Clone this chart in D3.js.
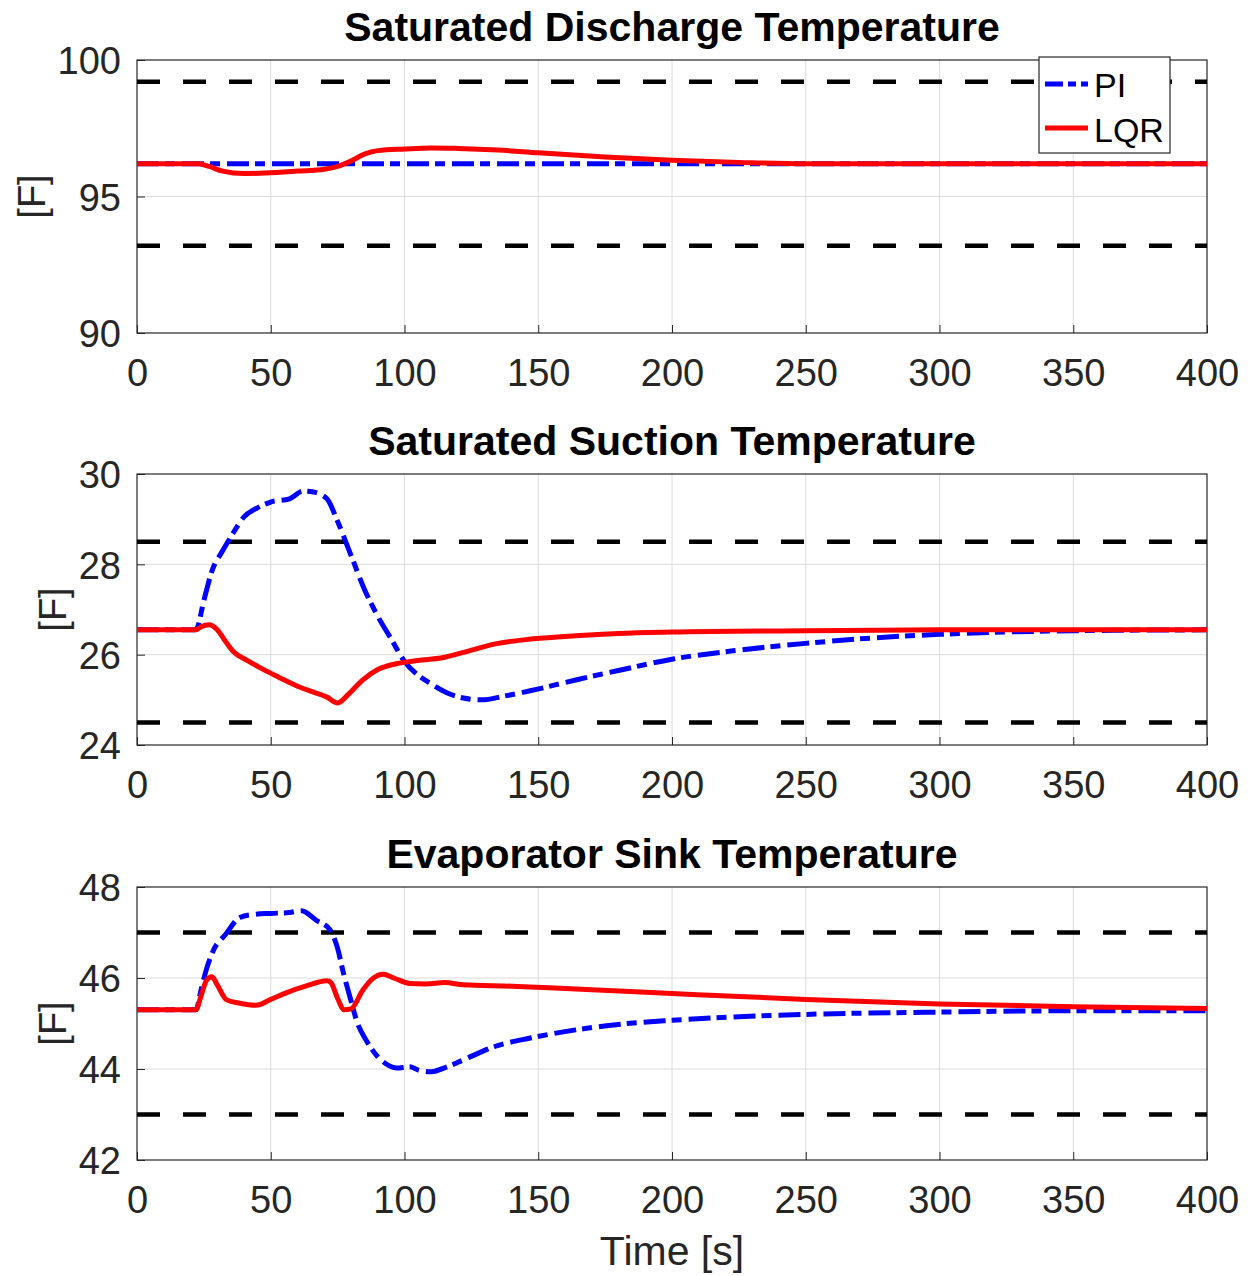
<!DOCTYPE html>
<html><head><meta charset="utf-8">
<script src="https://cdn.jsdelivr.net/npm/d3@7"></script>
<style>body{margin:0;background:#fff}svg{display:block}text{font-family:"Liberation Sans",Arial,sans-serif}</style>
</head><body>
<script>
// ---------- data ----------
const xTicks = [0,50,100,150,200,250,300,350,400];
const titles = ["Saturated Discharge Temperature","Saturated Suction Temperature","Evaporator Sink Temperature"];
const yDomains = [[90,100],[24,30],[42,48]];
const yTicks = [[90,95,100],[24,26,28,30],[42,44,46,48]];
const limits = [[99.2,93.2],[28.5,24.5],[47,43]];

// Panel 1
const p1_PI = [[0,96.2],[400,96.2]];
const p1_LQR = [[0,96.2],[23,96.2],[27,96.1],[32,95.93],[40,95.84],[48,95.86],[60,95.93],[70,96.0],[75,96.1],[80,96.3],[85,96.55],[90,96.68],[100,96.74],[110,96.78],[120,96.76],[135,96.7],[150,96.6],[175,96.45],[200,96.33],[225,96.25],[250,96.2],[300,96.2],[400,96.2]];

// Panel 2
const p2_PI = [[0,26.55],[22,26.55],[25,27.2],[28,27.85],[32,28.3],[35,28.6],[40,29.05],[45,29.25],[50,29.38],[57,29.45],[62,29.62],[66,29.6],[71,29.45],[75,28.95],[80,28.2],[85,27.45],[90,26.85],[95,26.35],[100,25.85],[105,25.55],[110,25.35],[116,25.15],[122,25.04],[129,25.0],[137,25.08],[147,25.2],[164,25.44],[180,25.65],[200,25.9],[225,26.1],[250,26.25],[275,26.37],[300,26.45],[350,26.53],[400,26.55]];
const p2_LQR = [[0,26.55],[22,26.55],[24,26.62],[27,26.66],[30,26.55],[33,26.3],[36,26.07],[41,25.88],[47,25.68],[53,25.5],[60,25.3],[66,25.17],[71,25.06],[75,24.93],[79,25.12],[84,25.42],[90,25.67],[97,25.8],[105,25.87],[114,25.93],[122,26.05],[134,26.24],[148,26.35],[164,26.42],[180,26.47],[200,26.5],[250,26.53],[300,26.55],[400,26.55]];

// Panel 3
const p3_PI = [[0,45.3],[22,45.3],[24,45.75],[26,46.2],[28.5,46.6],[33,46.95],[38.5,47.33],[44,47.4],[50,47.42],[57,47.44],[61.5,47.48],[67,47.27],[72,47.07],[75,46.65],[77,46.15],[80,45.5],[82,45.08],[86,44.6],[90,44.27],[94,44.08],[97,44.02],[102,44.05],[105,43.98],[110,43.94],[116,44.05],[122,44.2],[134,44.5],[147,44.68],[164,44.86],[180,44.98],[200,45.07],[225,45.15],[250,45.2],[300,45.25],[350,45.28],[400,45.28]];
const p3_LQR = [[0,45.3],[22,45.3],[24,45.62],[26,45.95],[28,46.03],[30,45.85],[33.5,45.52],[38,45.45],[44.5,45.4],[50,45.53],[56,45.68],[63,45.82],[71,45.94],[72.5,45.9],[75,45.55],[77.5,45.3],[80,45.32],[84.5,45.74],[88,45.98],[92,46.08],[96,46.0],[102,45.88],[108,45.87],[115,45.9],[122,45.85],[140,45.82],[164,45.76],[200,45.66],[250,45.53],[300,45.43],[350,45.37],[400,45.33]];

const series = [[p1_PI,p1_LQR],[p2_PI,p2_LQR],[p3_PI,p3_LQR]];

// ---------- layout ----------
const W = 1254, H = 1276;
const left = 137, right = 1207;
const panels = [{top:60,bottom:333},{top:474,bottom:745},{top:887,bottom:1160}];
const axisCol = "#262626";

const svg = d3.select("body").append("svg").attr("width",W).attr("height",H);
const x = d3.scaleLinear().domain([0,400]).range([left,right]);

panels.forEach((p,i)=>{
  const y = d3.scaleLinear().domain(yDomains[i]).range([p.bottom,p.top]);
  const g = svg.append("g");
  // grid
  g.selectAll(".gx").data(xTicks.slice(1,-1)).enter().append("line")
    .attr("x1",d=>x(d)).attr("x2",d=>x(d)).attr("y1",p.top).attr("y2",p.bottom)
    .attr("stroke","#dcdcdc").attr("stroke-width",1);
  g.selectAll(".gy").data(yTicks[i].slice(1,-1)).enter().append("line")
    .attr("x1",left).attr("x2",right).attr("y1",d=>y(d)).attr("y2",d=>y(d))
    .attr("stroke","#dcdcdc").attr("stroke-width",1);
  // axes via d3
  const xa = g.append("g").attr("transform",`translate(0,${p.bottom})`)
    .call(d3.axisBottom(x).tickValues(xTicks).tickFormat(d3.format("d")).tickSize(-8).tickPadding(26).tickSizeOuter(0));
  const ya = g.append("g").attr("transform",`translate(${left},0)`)
    .call(d3.axisLeft(y).tickValues(yTicks[i]).tickFormat(d3.format("d")).tickSize(-8).tickPadding(16).tickSizeOuter(0));
  [xa,ya].forEach(a=>{
    a.select(".domain").remove();
    a.selectAll("line").attr("stroke",axisCol);
    a.selectAll("text").attr("fill",axisCol).style("font-size","38px");
  });
  xa.selectAll("text").attr("dy","0.71em");
  ya.selectAll("text").attr("dy","0.36em");
  // box
  g.append("rect").attr("x",left).attr("y",p.top).attr("width",right-left).attr("height",p.bottom-p.top)
    .attr("fill","none").attr("stroke",axisCol).attr("stroke-width",1.2);
  // limits
  const clip = "clip"+i;
  svg.append("clipPath").attr("id",clip).append("rect").attr("x",left).attr("y",p.top-3).attr("width",right-left).attr("height",p.bottom-p.top+6);
  const pg = g.append("g").attr("clip-path",`url(#${clip})`);
  limits[i].forEach(v=>{
    pg.append("line").attr("x1",left).attr("x2",right).attr("y1",y(v)).attr("y2",y(v))
      .attr("stroke","#000").attr("stroke-width",4.5).attr("stroke-dasharray","23,23");
  });
  const line = d3.line().x(d=>x(d[0])).y(d=>y(d[1])).curve(d3.curveMonotoneX);
  pg.append("path").datum(series[i][0]).attr("d",line).attr("fill","none")
    .attr("stroke","#0000ff").attr("stroke-width",5).attr("stroke-dasharray","22,6,10,7");
  pg.append("path").datum(series[i][1]).attr("d",line).attr("fill","none")
    .attr("stroke","#ff0000").attr("stroke-width",5);
  // title
  svg.append("text").attr("x",(left+right)/2).attr("y",p.top-19).attr("text-anchor","middle")
    .style("font-size","41px").style("font-weight","bold").attr("fill","#000").text(titles[i]);
  // y label placed left of the tick labels
  let minX = Infinity;
  ya.selectAll("text").each(function(){ const b=this.getBBox(); minX=Math.min(minX, left-16-b.width); });
  svg.append("text").attr("transform",`translate(${minX-13},${(p.top+p.bottom)/2}) rotate(-90)`)
    .attr("text-anchor","middle").style("font-size","38px").attr("fill",axisCol).text("[F]");
});

svg.append("text").attr("x",(left+right)/2).attr("y",1265).attr("text-anchor","middle")
  .style("font-size","41px").attr("fill",axisCol).text("Time [s]");

// legend
const lg = svg.append("g");
lg.append("rect").attr("x",1039).attr("y",57).attr("width",131).attr("height",96)
  .attr("fill","#fff").attr("stroke",axisCol).attr("stroke-width",1.2);
const legItems = [{name:"PI",col:"#0000ff",dash:"18,5,8,5",y:84,base:97},{name:"LQR",col:"#ff0000",dash:null,y:128,base:142}];
legItems.forEach(d=>{
  lg.append("line").attr("x1",1045).attr("x2",1088).attr("y1",d.y).attr("y2",d.y)
    .attr("stroke",d.col).attr("stroke-width",5).attr("stroke-dasharray",d.dash);
  lg.append("text").attr("x",1094).attr("y",d.base)
    .style("font-size","34px").attr("fill","#000").text(d.name);
});
</script>
</body></html>
